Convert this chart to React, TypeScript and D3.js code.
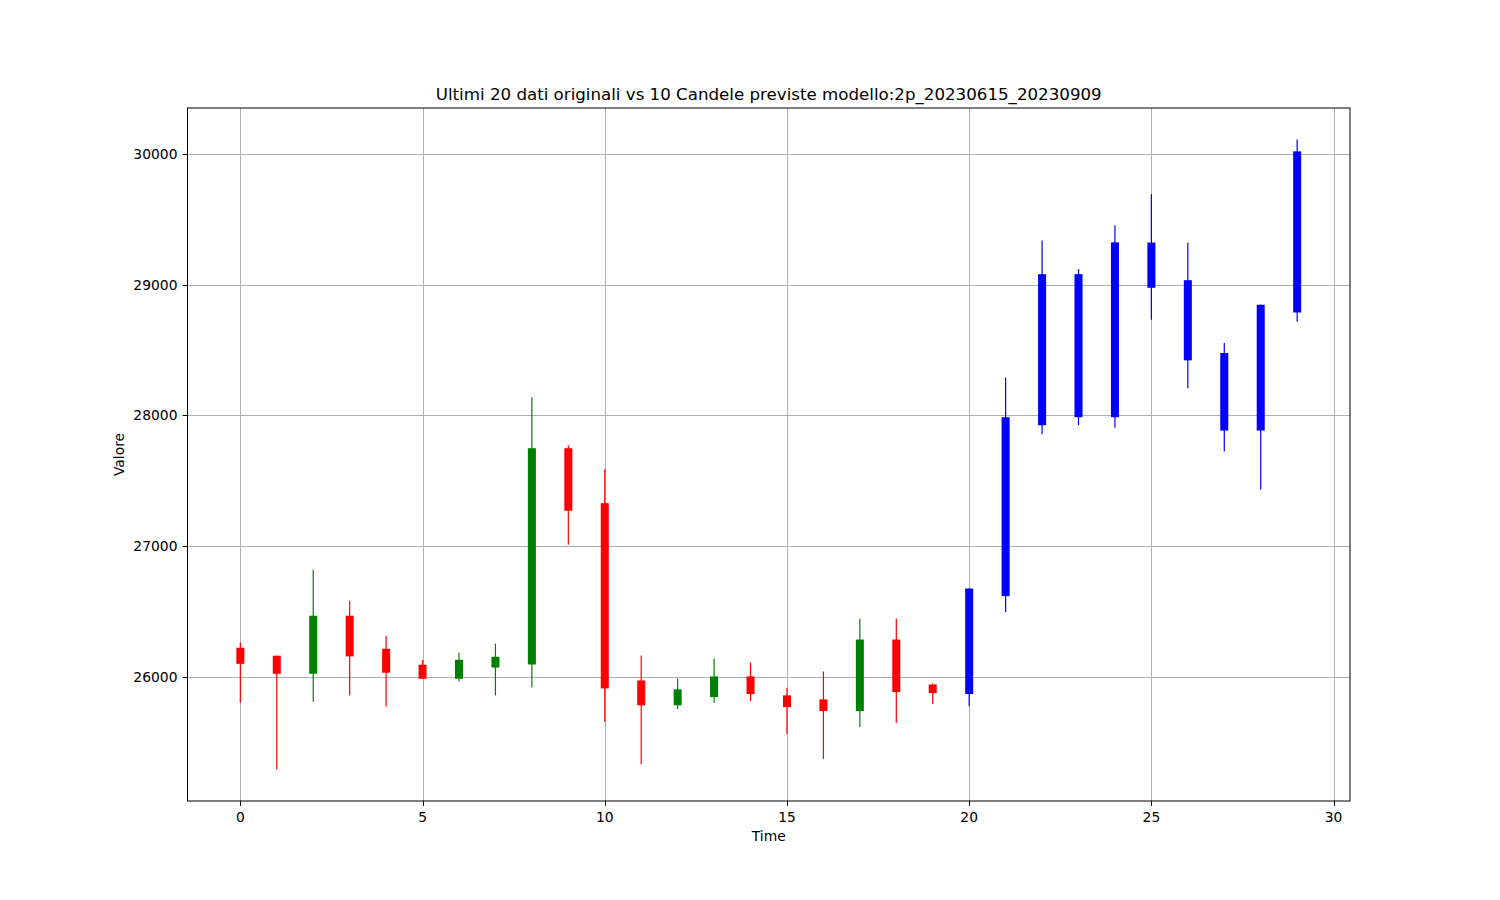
import React from "react";
import * as d3 from "d3";

const times = [0,1,2,3,4,5,6,7,8,9,10,11,12,13,14,15,16,17,18,19,20,21,22,23,24,25,26,27,28,29];
const opens = [26222,26161,26023,26467,26214,26092,25985,26071,26094,27748,27328,25972,25782,25845,26003,25858,25827,25738,26285,25941,25868,26617,27924,27985,27985,28975,29033,28476,27883,28786];
const closes = [26099,26023,26467,26156,26031,25985,26130,26153,27748,27270,25911,25782,25904,26003,25868,25768,25738,26285,25883,25875,26675,27985,29079,29079,29322,29321,28420,27883,28845,30018];
const highs = [26260,26161,26819,26582,26314,26128,26184,26253,28137,27771,27588,26163,25986,26140,26109,25916,26041,26445,26445,25949,26675,28289,29336,29117,29453,29690,29321,28552,28845,30109];
const lows = [25801,25291,25809,25857,25770,25985,25964,25857,25918,27010,25654,25332,25752,25799,25814,25562,25372,25616,25646,25791,25775,26494,27854,27924,27904,28730,28206,27723,27433,28715];
const nOriginal = 20;
const xTicks = [0,5,10,15,20,25,30];
const yTicks = [26000,27000,28000,29000,30000];
const title = "Ultimi 20 dati originali vs 10 Candele previste modello:2p_20230615_20230909";

const W = 1500, H = 900;
const L = 187.5, R = 1350, T = 108, B = 801;
const FONT = "DejaVu Sans, sans-serif";
const TICK_FS = 13.89;

export default function App() {
  const xMin = d3.min(times)!, xMax = d3.max(times)!;
  const xPad = (xMax - xMin) * 0.05;
  const x = d3.scaleLinear().domain([xMin - xPad, xMax + xPad]).range([L, R]);
  const yLo = d3.min(lows)!, yHi = d3.max(highs)!;
  const yPad = (yHi - yLo) * 0.05;
  const y = d3.scaleLinear().domain([yLo - yPad, yHi + yPad]).range([B, T]);
  const bodyW = x(0.22) - x(0);

  const candles = times.map((t, i) => {
    const o = opens[i], c = closes[i];
    const color = i >= nOriginal ? "#0000ff" : c >= o ? "#008000" : "#ff0000";
    return { t, o, c, h: highs[i], l: lows[i], color };
  });

  return (
    <svg width={W} height={H} style={{ position: "absolute", left: 0, top: 0, background: "#fff" }}>
      <rect x={0} y={0} width={W} height={H} fill="#fff" />
      <g stroke="#b0b0b0" strokeWidth={1}>
        {xTicks.map((t) => (
          <line key={"gx" + t} x1={Math.round(x(t)) + 0.5} x2={Math.round(x(t)) + 0.5} y1={T} y2={B} />
        ))}
        {yTicks.map((t) => (
          <line key={"gy" + t} y1={Math.round(y(t)) + 0.5} y2={Math.round(y(t)) + 0.5} x1={L} x2={R} />
        ))}
      </g>
      {candles.map((d, i) => {
        const cx = x(d.t);
        const top = y(Math.max(d.o, d.c));
        const bot = y(Math.min(d.o, d.c));
        return (
          <g key={i}>
            <line x1={cx} x2={cx} y1={y(d.h)} y2={y(d.l)} stroke={d.color} strokeWidth={1.2} />
            <rect x={cx - bodyW / 2} y={top} width={bodyW} height={Math.max(1, bot - top)} fill={d.color} />
          </g>
        );
      })}
      <rect x={L} y={T} width={R - L} height={B - T} fill="none" stroke="#000" strokeWidth={1} />
      {xTicks.map((t) => (
        <g key={"xt" + t}>
          <line x1={Math.round(x(t)) + 0.5} x2={Math.round(x(t)) + 0.5} y1={B} y2={B + 4.86} stroke="#000" strokeWidth={1} />
          <text x={x(t)} y={B + 21} fontSize={TICK_FS} fontFamily={FONT} textAnchor="middle" fill="#000">{t}</text>
        </g>
      ))}
      {yTicks.map((t) => (
        <g key={"yt" + t}>
          <line x1={L - 4.86} x2={L} y1={Math.round(y(t)) + 0.5} y2={Math.round(y(t)) + 0.5} stroke="#000" strokeWidth={1} />
          <text x={L - 10} y={y(t)} dy="0.36em" fontSize={TICK_FS} fontFamily={FONT} textAnchor="end" fill="#000">{t}</text>
        </g>
      ))}
      <text x={(L + R) / 2} y={841} fontSize={TICK_FS} fontFamily={FONT} textAnchor="middle" fill="#000">Time</text>
      <text transform={`translate(124,${(T + B) / 2}) rotate(-90)`} fontSize={TICK_FS} fontFamily={FONT} textAnchor="middle" fill="#000">Valore</text>
      <text x={(L + R) / 2} y={100} fontSize={16.67} fontFamily={FONT} textAnchor="middle" fill="#000">{title}</text>
    </svg>
  );
}
